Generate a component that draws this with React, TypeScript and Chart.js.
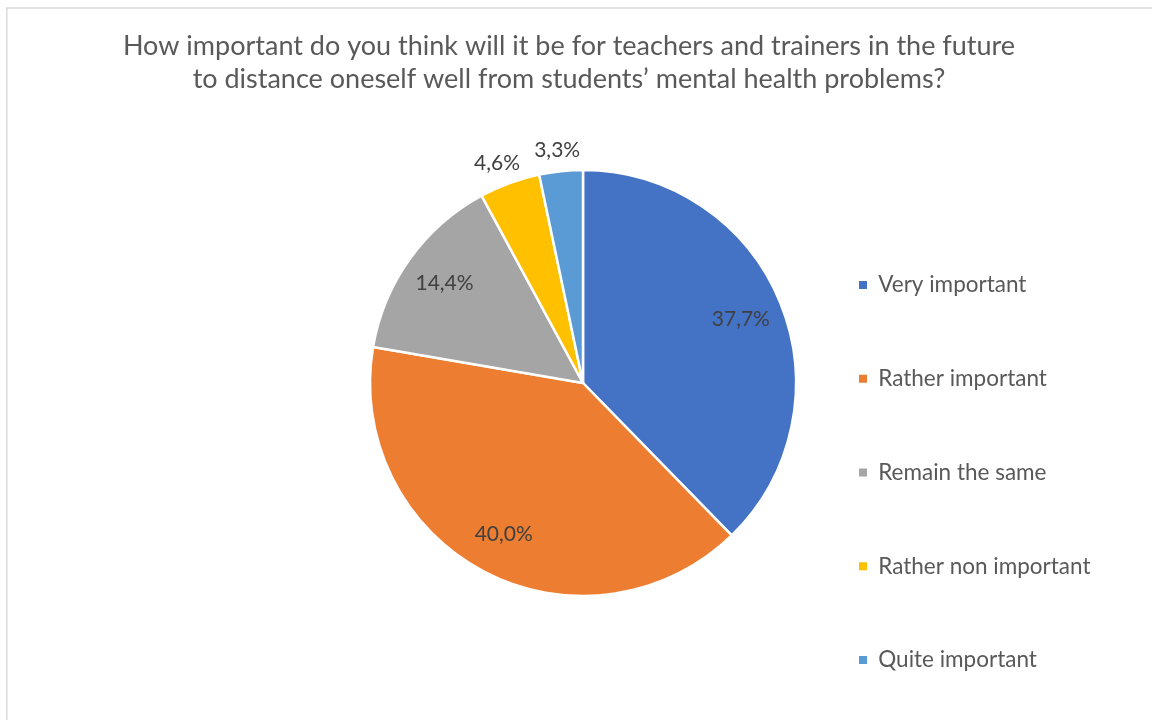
import React, { useEffect, useRef } from 'react';
import { Chart, registerables } from 'chart.js';

Chart.register(...registerables);

const TITLE_LINES = [
  'How important do you think will it be for teachers and trainers in the future',
  'to distance oneself well from students’ mental health problems?',
];
const CATEGORIES = ['Very important', 'Rather important', 'Remain the same', 'Rather non important', 'Quite important'];
const VALUES = [37.7, 40.0, 14.4, 4.6, 3.3];
const COLORS = ['#4472C4', '#ED7D31', '#A5A5A5', '#FFC000', '#5B9BD5'];
// label placement: inside the slice or outside the rim
const LABEL_INSIDE = [true, true, true, false, false];

const FONT = 'Lato, "Open Sans", sans-serif';
const LEGEND_FONT_SIZE = 22.5;
const LEGEND_PAD = 10;
const LEGEND_BOX = 8;
const PIE_CX = 583;
const LEGEND_LEFT = 849;

export default function App() {
  const ref = useRef<HTMLCanvasElement>(null);

  useEffect(() => {
    if (!ref.current) return;

    // measure legend width so the chart area ends exactly where the legend starts
    const mctx = document.createElement('canvas').getContext('2d')!;
    mctx.font = `${LEGEND_FONT_SIZE}px ${FONT}`;
    const maxTw = Math.max(...CATEGORIES.map((c) => mctx.measureText(c).width));
    const legendW = LEGEND_PAD + LEGEND_BOX + LEGEND_FONT_SIZE / 2 + maxTw + 10;
    const padRight = 1152 - LEGEND_LEFT - legendW;
    const padLeft = 2 * PIE_CX - LEGEND_LEFT;

    const framePlugin = {
      id: 'frame',
      beforeDraw(chart: any) {
        const ctx = chart.ctx;
        ctx.save();
        ctx.fillStyle = '#ffffff';
        ctx.fillRect(0, 0, chart.width, chart.height);
        ctx.strokeStyle = '#d9d9d9';
        ctx.lineWidth = 1.5;
        ctx.strokeRect(6.75, 8, 1300, 900);
        ctx.restore();
      },
    };

    const titlePlugin = {
      id: 'titleText',
      afterDraw(chart: any) {
        const ctx = chart.ctx;
        ctx.save();
        ctx.fillStyle = '#595959';
        ctx.font = `27px ${FONT}`;
        ctx.textAlign = 'center';
        ctx.textBaseline = 'alphabetic';
        ctx.fillText(TITLE_LINES[0], 569, 55);
        ctx.fillText(TITLE_LINES[1], 569, 88);
        ctx.restore();
      },
    };

    const sliceLabels = {
      id: 'sliceLabels',
      afterDatasetsDraw(chart: any) {
        const ctx = chart.ctx;
        const meta = chart.getDatasetMeta(0);
        const values = chart.data.datasets[0].data as number[];
        ctx.save();
        ctx.fillStyle = '#404040';
        ctx.font = `21px ${FONT}`;
        ctx.textAlign = 'center';
        ctx.textBaseline = 'middle';
        meta.data.forEach((arc: any, i: number) => {
          const p = arc.getProps(['x', 'y', 'startAngle', 'endAngle', 'outerRadius'], true);
          const mid = (p.startAngle + p.endAngle) / 2;
          const text = values[i].toFixed(1).replace('.', ',') + '%';
          let tx: number;
          let ty: number;
          if (LABEL_INSIDE[i]) {
            const rr = p.outerRadius * 0.8;
            tx = p.x + Math.cos(mid) * rr;
            ty = p.y + Math.sin(mid) * rr;
          } else {
            const w = ctx.measureText(text).width;
            const rr = p.outerRadius + 9;
            tx = p.x + Math.cos(mid) * rr + Math.cos(mid) * w * 0.6;
            ty = p.y + Math.sin(mid) * rr + Math.sin(mid) * 12;
          }
          ctx.fillText(text, tx, ty);
        });
        ctx.restore();
      },
    };

    const chart = new Chart(ref.current, {
      type: 'pie',
      data: {
        labels: CATEGORIES,
        datasets: [
          {
            data: VALUES,
            backgroundColor: COLORS,
            borderColor: '#ffffff',
            borderWidth: 2.5,
            radius: 213,
          } as any,
        ],
      },
      options: {
        responsive: false,
        animation: false,
        devicePixelRatio: 1,
        layout: { padding: { left: padLeft, right: padRight, top: 23.5, bottom: 17.5 } },
        plugins: {
          title: { display: false },
          tooltip: { enabled: false },
          legend: {
            position: 'right',
            align: 'end',
            labels: {
              boxWidth: LEGEND_BOX,
              boxHeight: LEGEND_BOX,
              padding: LEGEND_PAD,
              color: '#595959',
              font: { family: FONT, size: LEGEND_FONT_SIZE, lineHeight: '83.75px' },
              generateLabels: (c: any) => {
                const base = (Chart as any).overrides.pie.plugins.legend.labels.generateLabels(c);
                return base.map((l: any) => ({ ...l, text: [l.text], lineWidth: 0 }));
              },
            },
          } as any,
        },
      } as any,
      plugins: [framePlugin, titlePlugin, sliceLabels],
    });

    return () => chart.destroy();
  }, []);

  return (
    <div
      style={{
        position: 'fixed',
        left: 0,
        top: 0,
        width: 1152,
        height: 720,
        overflow: 'hidden',
        background: '#ffffff',
      }}
    >
      <canvas ref={ref} width={1152} height={760} style={{ display: 'block' }} />
    </div>
  );
}
